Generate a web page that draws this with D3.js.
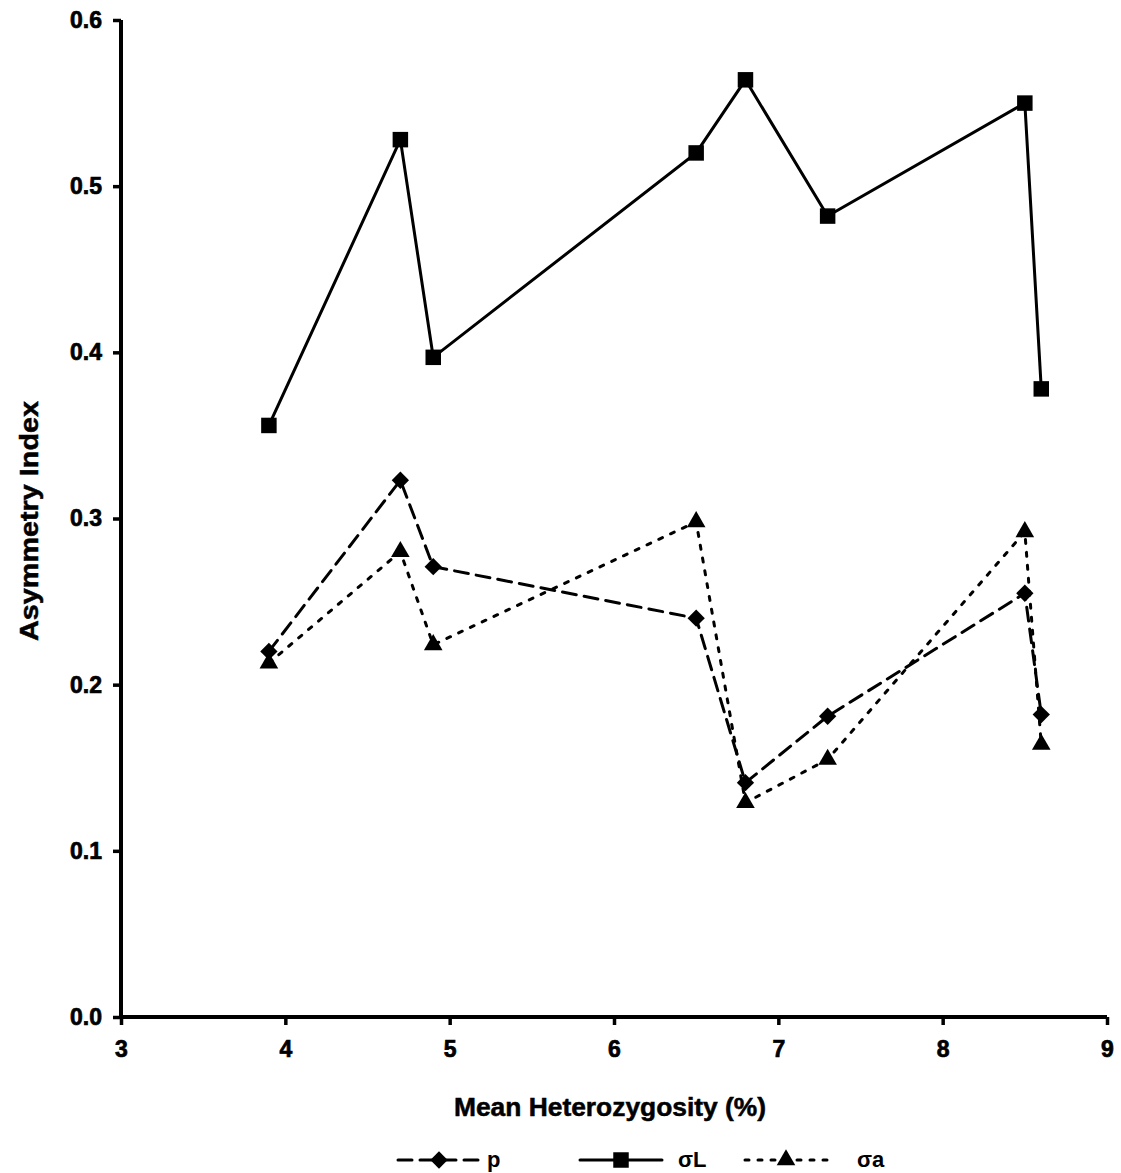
<!DOCTYPE html>
<html><head><meta charset="utf-8">
<script src="https://cdn.jsdelivr.net/npm/d3@7"></script>
<style>body{margin:0;background:#fff}svg{display:block}text{font-family:"Liberation Sans",Arial,sans-serif;font-weight:bold;fill:#000}</style>
</head><body><svg id="c" width="1121" height="1173"></svg>
<script>
const xValues = [3.9, 4.7, 4.9, 6.5, 6.8, 7.3, 8.5, 8.6];
const pValues = [0.220, 0.323, 0.271, 0.240, 0.141, 0.181, 0.255, 0.182];
const sigmaLValues = [0.356, 0.528, 0.397, 0.520, 0.564, 0.482, 0.550, 0.378];
const sigmaAValues = [0.213, 0.280, 0.224, 0.298, 0.129, 0.155, 0.292, 0.164];
const xTicks = [3, 4, 5, 6, 7, 8, 9];
const yTicks = [0, 0.1, 0.2, 0.3, 0.4, 0.5, 0.6];
const seriesNames = ["p", "σL", "σa"];

const svg = d3.select("#c");
const x = d3.scaleLinear().domain([3, 9]).range([121, 1107]);
const y = d3.scaleLinear().domain([0, 0.6]).range([1017, 20]);

const series = [
  {name: seriesNames[0], values: pValues, dash: "14,8", sym: d3.symbolSquare, rot: 45, size: 150},
  {name: seriesNames[1], values: sigmaLValues, dash: null, sym: d3.symbolSquare, rot: 0, size: 240},
  {name: seriesNames[2], values: sigmaAValues, dash: "4,9", sym: d3.symbolTriangle, rot: 0, size: 150}
];

// axes
const xAxis = d3.axisBottom(x).tickValues(xTicks).tickFormat(d3.format("d")).tickSize(8).tickPadding(16);
const yAxis = d3.axisLeft(y).tickValues(yTicks).tickFormat(d3.format(".1f")).tickSize(8).tickPadding(11);
const gx = svg.append("g").attr("transform", "translate(0,1017)").call(xAxis);
const gy = svg.append("g").attr("transform", "translate(121,0)").call(yAxis);
[gx, gy].forEach(g => {
  g.attr("font-size", null).attr("font-family", null);
  g.select(".domain").style("stroke-width", "4px").attr("stroke", "#000");
  g.selectAll(".tick line").style("stroke-width", "3.5px").attr("stroke", "#000");
  g.selectAll(".tick text").style("font-size", "23px").style("font-weight", "bold")
    .style("stroke", "#000").style("stroke-width", "0.7px").attr("fill", "#000");
});
gx.select(".domain").attr("d", `M${x(3)},0H${x(9)}`);
gy.select(".domain").attr("d", `M0,${y(0)}V${y(0.6)}`);

// lines
const line = d3.line().x((d, i) => x(xValues[i])).y(d => y(d));
series.forEach(s => {
  svg.append("path").datum(s.values).attr("d", line)
    .attr("fill", "none").attr("stroke", "#000").attr("stroke-width", 3)
    .attr("stroke-linecap", "round")
    .attr("stroke-dasharray", s.dash);
  svg.append("g").selectAll("path").data(s.values).join("path")
    .attr("transform", (d, i) => `translate(${x(xValues[i])},${y(d)}) rotate(${s.rot})`)
    .attr("d", d3.symbol().type(s.sym).size(s.size)).attr("fill", "#000");
});

// axis titles
svg.append("text").attr("x", 610).attr("y", 1116).attr("text-anchor", "middle")
  .attr("textLength", 312).attr("lengthAdjust", "spacingAndGlyphs")
  .style("font-size", "25px").style("stroke", "#000").style("stroke-width", "0.5px").text("Mean Heterozygosity (%)");
svg.append("text").attr("transform", "translate(38,521) rotate(-90)").attr("text-anchor", "middle")
  .attr("textLength", 240).attr("lengthAdjust", "spacingAndGlyphs")
  .style("font-size", "25px").style("stroke", "#000").style("stroke-width", "0.5px").text("Asymmetry Index");

// legend
const legX = [398, 580, 745];
const labX = [487, 678, 857];
series.forEach((s, i) => {
  const g = svg.append("g");
  g.append("line").attr("x1", legX[i]).attr("x2", legX[i] + 82).attr("y1", 1160).attr("y2", 1160)
    .attr("stroke", "#000").attr("stroke-width", 3).attr("stroke-linecap", "round")
    .attr("stroke-dasharray", s.dash);
  g.append("path").attr("transform", `translate(${legX[i] + 41},1160) rotate(${s.rot})`)
    .attr("d", d3.symbol().type(s.sym).size(s.size)).attr("fill", "#000");
  g.append("text").attr("x", labX[i]).attr("y", 1167).style("font-size", "22px").text(s.name);
});
</script></body></html>
